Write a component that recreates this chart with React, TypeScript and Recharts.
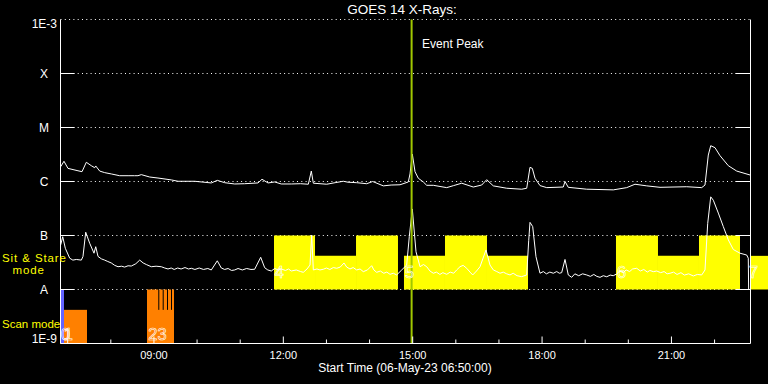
import React from 'react';
import {
  CartesianGrid,
  ComposedChart,
  Line,
  ReferenceArea,
  ReferenceDot,
  ReferenceLine,
  XAxis,
  YAxis,
} from 'recharts';

// time axis in decimal hours, 06:50 -> 22:50
const TIME_DOMAIN = [6.8333, 22.8333];
const HOUR_TICKS = [7, 8, 9, 10, 11, 12, 13, 14, 15, 16, 17, 18, 19, 20, 21, 22];
const MAJOR_HOURS = [9, 12, 15, 18, 21];
const HOUR_LABELS = ['09:00', '12:00', '15:00', '18:00', '21:00'];

const FLUX_TICKS = [1e-9, 1e-8, 1e-7, 1e-6, 1e-5, 1e-4, 1e-3];
const FLUX_LABELS = ['1E-9', 'A', 'B', 'C', 'M', 'X', '1E-3'];

// GOES long channel (1-8 A)
const LONG_T = [
  6.838, 6.914, 7.007, 7.239, 7.332, 7.432, 7.548, 7.626, 7.65, 7.742,
  7.858, 8.011, 8.206, 8.4, 8.55, 8.63, 8.707, 8.902, 9.094, 9.403,
  9.558, 9.945, 10.33, 10.469, 10.641, 10.873, 11.1, 11.413, 11.506, 11.645,
  11.8, 11.953, 12.185, 12.4, 12.58, 12.649, 12.696, 13.006, 13.2, 13.391,
  13.5, 13.702, 13.934, 14.073, 14.319, 14.5, 14.706, 14.898, 14.938, 14.991,
  15.054, 15.13, 15.246, 15.325, 15.478, 15.789, 15.95, 16.137, 16.406, 16.6,
  16.716, 16.869, 17.18, 17.528, 17.644, 17.72, 17.774, 17.836, 17.952, 18.108,
  18.492, 18.532, 18.608, 19.035, 19.652, 19.963, 20.155, 20.427, 20.735, 21.354,
  21.702, 21.778, 21.855, 21.911, 22.01, 22.126, 22.319, 22.514, 22.822,
];
const LONG_V = [
  1.88e-6, 2.37e-6, 1.75e-6, 1.58e-6, 1.52e-6, 2.27e-6, 1.96e-6, 1.8e-6, 1.94e-6, 1.56e-6,
  1.46e-6, 1.38e-6, 1.28e-6, 1.28e-6, 1.28e-6, 1.28e-6, 1.34e-6, 1.21e-6, 1.16e-6, 1.07e-6,
  1.01e-6, 1.01e-6, 9.4e-7, 1.05e-6, 9.5e-7, 9.0e-7, 9.1e-7, 9.4e-7, 1.1e-6, 9.4e-7,
  9.8e-7, 9.0e-7, 9.0e-7, 9.1e-7, 8.9e-7, 1.56e-6, 9.3e-7, 8.9e-7, 9.5e-7, 1.01e-6,
  9.7e-7, 9.5e-7, 9.1e-7, 1.0e-6, 8.3e-7, 8.6e-7, 8.7e-7, 9.8e-7, 1.38e-6, 3.23e-6,
  1.52e-6, 1.15e-6, 9.8e-7, 8.5e-7, 8.5e-7, 7.7e-7, 8.4e-7, 9.3e-7, 7.9e-7, 8.6e-7,
  1.08e-6, 8.3e-7, 7.5e-7, 7.2e-7, 7.5e-7, 1.83e-6, 1.75e-6, 1.15e-6, 8.4e-7, 7.7e-7,
  7.9e-7, 1.0e-6, 7.8e-7, 7.2e-7, 7.0e-7, 7.7e-7, 8.9e-7, 8.3e-7, 7.8e-7, 8.0e-7,
  7.7e-7, 8.6e-7, 3.09e-6, 4.6e-6, 4.23e-6, 3.01e-6, 1.96e-6, 1.56e-6, 1.32e-6,
];

// GOES short channel (0.5-4 A)
const SHORT_T = [
  6.838, 6.885, 6.945, 7.047, 7.12, 7.2, 7.316, 7.355, 7.418, 7.51,
  7.61, 7.65, 7.703, 7.78, 7.858, 7.93, 8.011, 8.09, 8.167, 8.25,
  8.32, 8.4, 8.475, 8.58, 8.67, 8.75, 8.823, 8.939, 9.05, 9.171,
  9.25, 9.326, 9.4, 9.47, 9.55, 9.63, 9.72, 9.8, 9.867, 9.95,
  10.05, 10.15, 10.25, 10.33, 10.469, 10.562, 10.64, 10.72, 10.8, 10.873,
  10.95, 11.05, 11.15, 11.25, 11.336, 11.476, 11.568, 11.64, 11.721, 11.8,
  11.88, 11.953, 12.05, 12.12, 12.185, 12.3, 12.4, 12.463, 12.55, 12.619,
  12.658, 12.696, 12.78, 12.85, 12.927, 13.0, 13.08, 13.16, 13.238, 13.32,
  13.407, 13.47, 13.546, 13.62, 13.7, 13.78, 13.855, 13.95, 14.049, 14.1,
  14.165, 14.25, 14.33, 14.4, 14.474, 14.55, 14.629, 14.745, 14.861, 14.921,
  14.991, 15.077, 15.17, 15.25, 15.325, 15.4, 15.478, 15.55, 15.63, 15.7,
  15.789, 15.87, 15.95, 16.02, 16.097, 16.17, 16.253, 16.33, 16.392, 16.48,
  16.561, 16.7, 16.793, 16.87, 16.95, 17.025, 17.1, 17.18, 17.257, 17.33,
  17.42, 17.528, 17.644, 17.69, 17.72, 17.783, 17.859, 17.952, 18.03, 18.1,
  18.18, 18.261, 18.34, 18.4, 18.455, 18.532, 18.608, 18.687, 18.76, 18.85,
  18.94, 19.035, 19.12, 19.2, 19.27, 19.344, 19.42, 19.5, 19.58, 19.65,
  19.731, 19.8, 19.88, 19.95, 20.03, 20.1, 20.195, 20.28, 20.36, 20.44,
  20.5, 20.58, 20.66, 20.75, 20.83, 20.9, 20.967, 21.05, 21.13, 21.22,
  21.3, 21.4, 21.507, 21.6, 21.702, 21.778, 21.841, 21.911, 21.971, 22.087,
  22.203, 22.319, 22.435, 22.59, 22.745, 22.782, 22.79,
];
const SHORT_V = [
  6.7e-8, 9.5e-8, 5.8e-8, 3.8e-8, 3.5e-8, 3.6e-8, 3.5e-8, 4.1e-8, 1.15e-7, 7.2e-8,
  4.7e-8, 6.2e-8, 4.1e-8, 3.7e-8, 3.5e-8, 3.3e-8, 3.1e-8, 2.8e-8, 2.64e-8, 2.7e-8,
  2.6e-8, 2.75e-8, 2.72e-8, 3.0e-8, 3.5e-8, 3.1e-8, 2.9e-8, 2.64e-8, 2.7e-8, 2.64e-8,
  2.5e-8, 2.4e-8, 2.5e-8, 2.35e-8, 2.5e-8, 2.4e-8, 2.55e-8, 2.4e-8, 2.47e-8, 2.35e-8,
  2.5e-8, 2.35e-8, 2.45e-8, 2.3e-8, 3.4e-8, 2.5e-8, 2.35e-8, 2.45e-8, 2.25e-8, 2.3e-8,
  2.45e-8, 2.3e-8, 2.45e-8, 2.35e-8, 2.37e-8, 3.95e-8, 2.53e-8, 2.3e-8, 2.2e-8, 2.45e-8,
  2.3e-8, 2.4e-8, 2.25e-8, 2.4e-8, 2.2e-8, 2.3e-8, 2.15e-8, 2.08e-8, 2.4e-8, 2.84e-8,
  1.02e-7, 2.3e-8, 2.4e-8, 2.3e-8, 2.37e-8, 2.5e-8, 2.35e-8, 2.55e-8, 2.47e-8, 2.6e-8,
  3.1e-8, 2.6e-8, 2.4e-8, 2.55e-8, 2.3e-8, 2.4e-8, 2.14e-8, 2.3e-8, 2.76e-8, 2.3e-8,
  2.08e-8, 2.2e-8, 2.0e-8, 2.1e-8, 1.91e-8, 2.0e-8, 1.86e-8, 2.3e-8, 2.84e-8, 9.5e-8,
  3.1e-7, 5.0e-8, 2.64e-8, 2.9e-8, 2.64e-8, 2.2e-8, 2.0e-8, 2.1e-8, 1.9e-8, 2.05e-8,
  1.91e-8, 2.1e-8, 2.0e-8, 2.3e-8, 2.64e-8, 2.8e-8, 2.47e-8, 2.1e-8, 1.86e-8, 2.2e-8,
  2.64e-8, 5.4e-8, 2.84e-8, 2.3e-8, 2.15e-8, 2.0e-8, 2.1e-8, 1.95e-8, 1.86e-8, 2.0e-8,
  1.8e-8, 1.73e-8, 1.86e-8, 8.0e-8, 1.75e-7, 1.46e-7, 4.05e-8, 2.0e-8, 2.15e-8, 1.95e-8,
  2.1e-8, 2.0e-8, 2.15e-8, 2.0e-8, 2.05e-8, 3.6e-8, 1.86e-8, 1.68e-8, 1.95e-8, 1.8e-8,
  1.95e-8, 1.86e-8, 1.75e-8, 1.9e-8, 1.75e-8, 1.68e-8, 1.8e-8, 1.72e-8, 1.85e-8, 1.8e-8,
  1.94e-8, 2.2e-8, 2.05e-8, 2.3e-8, 2.15e-8, 2.4e-8, 2.47e-8, 2.2e-8, 2.35e-8, 2.1e-8,
  2.25e-8, 2.14e-8, 2.2e-8, 2.05e-8, 2.15e-8, 1.95e-8, 2.0e-8, 2.1e-8, 1.9e-8, 2.05e-8,
  1.85e-8, 1.95e-8, 1.78e-8, 1.9e-8, 1.86e-8, 2.3e-8, 1.68e-7, 5.2e-7, 4.5e-7, 2.6e-7,
  1.46e-7, 8.3e-8, 5.5e-8, 4.7e-8, 4.35e-8, 3.8e-8, 1.0e-8,
];

// sit & stare schedule (yellow), bottom of band at A level
const STARE_START = [11.784, 12.735, 13.686, 14.798, 15.749, 16.723, 19.714, 20.688, 21.639, 22.845];
const STARE_END = [12.735, 13.686, 14.659, 15.749, 16.723, 17.674, 20.688, 21.639, 22.59, 23.24];
const STARE_TOP = [1e-7, 4.2e-8, 1e-7, 4.2e-8, 1e-7, 4.2e-8, 1e-7, 4.2e-8, 1e-7, 4.2e-8];
const STARE_LABEL_T = [11.8, 14.82, 19.74, 22.8];
const STARE_LABELS = ['4', '5', '6', '7'];

// scan mode schedule, bottom of band at 1E-9
const SCAN_START = [6.838, 6.914, 8.839];
const SCAN_END = [6.914, 7.448, 9.465];
const SCAN_TOP = [1e-8, 4.2e-9, 4.2e-9];
const SCAN_COLOR = ['#6464ff', '#ff8000', '#ff8000'];
const BURST_START = [8.839, 9.124, 9.226, 9.326, 9.419];
const BURST_END = [9.101, 9.203, 9.303, 9.396, 9.465];
const SCAN_LABEL_T = [6.838, 8.869];
const SCAN_LABELS = ['01', '23'];
const SCAN_LABEL_SPACING = [-6, 0];

const EVENT_PEAK = 14.975;

const FONT = '"Liberation Sans", Arial, sans-serif';

const longData = LONG_T.map((t, i) => ({ t, v: LONG_V[i] }));
const shortData = SHORT_T.map((t, i) => ({ t, v: SHORT_V[i] }));

function LeftTick(props: any) {
  const { x, y, payload } = props;
  const i = FLUX_TICKS.indexOf(payload.value);
  const label = FLUX_LABELS[i];
  const edge = label.startsWith('1E');
  const top = i === FLUX_TICKS.length - 1;
  return (
    <g>
      {!edge && <line x1={x} x2={x + 14} y1={y} y2={y} stroke="#fff" />}
      <text
        x={edge ? x - 3.5 : x - 16.5}
        y={edge ? (top ? y + 8 : y - 0.3) : y + 4.5}
        textAnchor={edge ? 'end' : 'middle'}
        fill="#fff"
        fontFamily={FONT}
        fontSize={12}
      >
        {label}
      </text>
    </g>
  );
}

function RightTick(props: any) {
  const { x, y, payload } = props;
  const i = FLUX_TICKS.indexOf(payload.value);
  if (i === 0 || i === FLUX_TICKS.length - 1) return <g />;
  return <line x1={x - 15} x2={x} y1={y} y2={y} stroke="#fff" />;
}

function BottomTick(props: any) {
  const { x, y, payload } = props;
  const i = MAJOR_HOURS.indexOf(payload.value);
  return (
    <g>
      <line x1={x} x2={x} y1={y} y2={y - (i >= 0 ? 7 : 4)} stroke="#fff" />
      {i >= 0 && (
        <text x={x} y={y + 15.5} textAnchor="middle" fill="#fff" fontFamily={FONT} fontSize={11}>
          {HOUR_LABELS[i]}
        </text>
      )}
    </g>
  );
}

function TopTick(props: any) {
  const { x, y, payload } = props;
  const major = MAJOR_HOURS.includes(payload.value);
  return <line x1={x} x2={x} y1={y} y2={y + (major ? 7 : 4)} stroke="#fff" />;
}

function Digit(props: any) {
  const { cx, cy, text, dy, spacing } = props;
  return (
    <text
      x={cx}
      y={cy + dy}
      fill="none"
      stroke="#fff"
      strokeWidth={0.6}
      fontFamily={FONT}
      fontSize={16.5}
      letterSpacing={spacing || 0}
    >
      {text}
    </text>
  );
}

export default function App() {
  return (
    <div style={{ position: 'absolute', left: 0, top: 0, width: 768, height: 384, background: '#000' }}>
      <ComposedChart width={768} height={384} margin={{ top: 19.5, right: 0, bottom: 0, left: 0 }}>
        <XAxis
          xAxisId="b"
          dataKey="t"
          type="number"
          domain={TIME_DOMAIN}
          allowDataOverflow
          ticks={HOUR_TICKS}
          interval={0}
          tickSize={0}
          tickMargin={0}
          tickLine={false}
          tick={(p: any) => <BottomTick {...p} />}
          axisLine={{ stroke: '#fff' }}
          height={40.5}
        />
        <XAxis
          xAxisId="t"
          orientation="top"
          dataKey="t"
          type="number"
          domain={TIME_DOMAIN}
          allowDataOverflow
          ticks={HOUR_TICKS}
          interval={0}
          tickSize={0}
          tickMargin={0}
          tickLine={false}
          tick={(p: any) => <TopTick {...p} />}
          axisLine={{ stroke: '#fff' }}
          height={0}
        />
        <YAxis
          yAxisId="l"
          type="number"
          scale="log"
          domain={[1e-9, 1e-3]}
          allowDataOverflow
          ticks={FLUX_TICKS}
          interval={0}
          tickSize={0}
          tickMargin={0}
          tickLine={false}
          tick={(p: any) => <LeftTick {...p} />}
          axisLine={{ stroke: '#fff' }}
          width={60.5}
        />
        <YAxis
          yAxisId="r"
          orientation="right"
          type="number"
          scale="log"
          domain={[1e-9, 1e-3]}
          allowDataOverflow
          ticks={FLUX_TICKS}
          interval={0}
          tickSize={0}
          tickMargin={0}
          tickLine={false}
          tick={(p: any) => <RightTick {...p} />}
          axisLine={{ stroke: '#fff' }}
          width={17.5}
        />
        <CartesianGrid xAxisId="b" yAxisId="l" vertical={false} stroke="#fff" strokeDasharray="1 3.3" />

        {STARE_START.map((s, i) => (
          <ReferenceArea
            key={`st${i}`}
            xAxisId="b"
            yAxisId="l"
            x1={s}
            x2={STARE_END[i]}
            y1={1e-8}
            y2={STARE_TOP[i]}
            fill="#ffff00"
            fillOpacity={1}
            stroke="none"
            ifOverflow="visible"
          />
        ))}
        {SCAN_START.map((s, i) => (
          <ReferenceArea
            key={`sc${i}`}
            xAxisId="b"
            yAxisId="l"
            x1={s}
            x2={SCAN_END[i]}
            y1={1e-9}
            y2={SCAN_TOP[i]}
            fill={SCAN_COLOR[i]}
            fillOpacity={1}
            stroke="none"
          />
        ))}
        {BURST_START.map((s, i) => (
          <ReferenceArea
            key={`bu${i}`}
            xAxisId="b"
            yAxisId="l"
            x1={s}
            x2={BURST_END[i]}
            y1={1e-9}
            y2={1e-8}
            fill="#ff8000"
            fillOpacity={1}
            stroke="none"
          />
        ))}

        <Line
          xAxisId="b"
          yAxisId="l"
          data={longData}
          dataKey="v"
          type="linear"
          stroke="#fff"
          strokeWidth={1}
          dot={false}
          isAnimationActive={false}
        />
        <Line
          xAxisId="b"
          yAxisId="l"
          data={shortData}
          dataKey="v"
          type="linear"
          stroke="#fff"
          strokeWidth={1}
          dot={false}
          isAnimationActive={false}
        />

        {STARE_LABEL_T.map((t, i) => (
          <ReferenceDot
            key={`sl${i}`}
            xAxisId="b"
            yAxisId="l"
            x={t}
            y={1e-8}
            r={0}
            ifOverflow="visible"
            shape={(p: any) => <Digit {...p} text={STARE_LABELS[i]} dy={-11.2} />}
          />
        ))}
        {SCAN_LABEL_T.map((t, i) => (
          <ReferenceDot
            key={`cl${i}`}
            xAxisId="b"
            yAxisId="l"
            x={t}
            y={1e-9}
            r={0}
            ifOverflow="visible"
            shape={(p: any) => (
              <Digit {...p} text={SCAN_LABELS[i]} dy={-3.5} spacing={SCAN_LABEL_SPACING[i]} />
            )}
          />
        ))}

        <ReferenceLine
          xAxisId="b"
          yAxisId="l"
          x={EVENT_PEAK}
          stroke="#a0c800"
          strokeWidth={2}
          label={(p: any) => (
            <text
              x={p.viewBox.x + 10.5}
              y={p.viewBox.y + 28}
              fill="#fff"
              fontFamily={FONT}
              fontSize={12}
            >
              Event Peak
            </text>
          )}
        />
      </ComposedChart>
      <svg
        width={768}
        height={384}
        style={{ position: 'absolute', left: 0, top: 0, pointerEvents: 'none' }}
      >
        <text x={402} y={14} textAnchor="middle" fill="#fff" fontFamily={FONT} fontSize={13.5}>
          GOES 14 X-Rays:
        </text>
        <text x={405} y={372} textAnchor="middle" fill="#fff" fontFamily={FONT} fontSize={12}>
          Start Time (06-May-23 06:50:00)
        </text>
        <text x={2} y={262} fill="#ffff00" fontFamily={FONT} fontSize={11.5} letterSpacing={0.9}>
          Sit &amp; Stare
        </text>
        <text x={12.5} y={274.3} fill="#ffff00" fontFamily={FONT} fontSize={11.5} letterSpacing={0.9}>
          mode
        </text>
        <text x={2} y={328} fill="#ffff00" fontFamily={FONT} fontSize={11.5}>
          Scan mode
        </text>
      </svg>
    </div>
  );
}
